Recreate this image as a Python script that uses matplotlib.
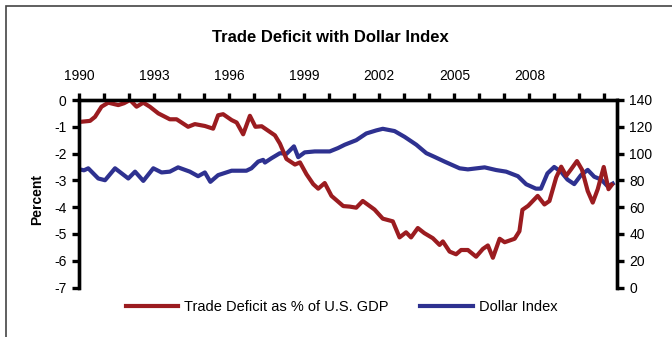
import matplotlib
matplotlib.use('Agg')
import matplotlib.pyplot as plt
from matplotlib.patches import Rectangle
import numpy as np

plt.rcParams['font.family'] = ['Liberation Sans', 'DejaVu Sans']
plt.rcParams['axes.unicode_minus'] = False

# trade balance, percent of GDP
deficit_years = [1990.0, 1990.44, 1990.64, 1990.9, 1991.17, 1991.57, 1991.8, 1992.04,
                 1992.3, 1992.57, 1992.83, 1993.17, 1993.63, 1993.9, 1994.36, 1994.63,
                 1995.03, 1995.36, 1995.56, 1995.76, 1996.1, 1996.3, 1996.56, 1996.83,
                 1997.05, 1997.3, 1997.83, 1998.03, 1998.29, 1998.63, 1998.83, 1999.09,
                 1999.36, 1999.56, 1999.82, 2000.09, 2000.56, 2000.82, 2001.08, 2001.34,
                 2001.81, 2002.14, 2002.54, 2002.81, 2003.07, 2003.27, 2003.54, 2003.8,
                 2004.14, 2004.41, 2004.54, 2004.81, 2005.07, 2005.27, 2005.54, 2005.87,
                 2006.14, 2006.34, 2006.54, 2006.81, 2007.01, 2007.41, 2007.6, 2007.72,
                 2007.95, 2008.33, 2008.6, 2008.8, 2009.07, 2009.27, 2009.47, 2009.67,
                 2009.9, 2010.1, 2010.33, 2010.53, 2010.73, 2010.97, 2011.16, 2011.29]
deficit_pct = [-0.82, -0.78, -0.63, -0.25, -0.10, -0.19, -0.12, 0.0,
               -0.25, -0.10, -0.25, -0.5, -0.72, -0.72, -1.0, -0.9,
               -0.97, -1.07, -0.57, -0.53, -0.75, -0.84, -1.28, -0.59,
               -1.0, -0.98, -1.32, -1.63, -2.2, -2.41, -2.33, -2.77,
               -3.14, -3.31, -3.1, -3.58, -3.96, -3.98, -4.02, -3.77,
               -4.09, -4.43, -4.53, -5.13, -4.94, -5.13, -4.78, -4.97,
               -5.16, -5.41, -5.28, -5.66, -5.76, -5.6, -5.6, -5.85,
               -5.56, -5.43, -5.89, -5.18, -5.31, -5.18, -4.9, -4.1,
               -3.95, -3.58, -3.9, -3.77, -2.89, -2.49, -2.83, -2.58,
               -2.28, -2.6, -3.4, -3.83, -3.33, -2.5, -3.33, -3.17]

# trade-weighted dollar index
dollar_years = [1990.0, 1990.2, 1990.37, 1990.77, 1991.04, 1991.44, 1991.97, 1992.24,
                1992.57, 1992.97, 1993.3, 1993.63, 1993.96, 1994.43, 1994.76, 1995.03,
                1995.25, 1995.56, 1996.1, 1996.69, 1996.89, 1997.16, 1997.36, 1997.43,
                1997.69, 1998.03, 1998.29, 1998.59, 1998.76, 1999.02, 1999.42, 2000.02,
                2000.35, 2000.62, 2001.08, 2001.48, 2001.88, 2002.14, 2002.61, 2003.01,
                2003.48, 2003.88, 2004.21, 2004.61, 2005.21, 2005.54, 2006.21, 2006.67,
                2007.07, 2007.54, 2007.87, 2008.26, 2008.46, 2008.72, 2008.99, 2009.26,
                2009.52, 2009.79, 2010.06, 2010.33, 2010.59, 2010.87, 2011.13, 2011.33]
dollar_index = [88.3, 87.5, 89.0, 81.4, 80.1, 89.0, 81.4, 86.5,
                79.6, 89.0, 85.9, 86.5, 89.7, 86.5, 83.1, 85.9,
                78.9, 83.9, 87.2, 87.2, 89.0, 94.0, 95.3, 93.3,
                96.5, 100.3, 99.8, 105.4, 97.3, 100.9, 101.6, 101.6,
                104.1, 106.6, 110.0, 115.0, 117.3, 118.5, 116.8, 112.5,
                106.6, 100.3, 97.5, 94.0, 89.0, 88.2, 89.7, 87.7,
                86.5, 83.1, 77.1, 73.8, 73.8, 85.2, 90.0, 86.5,
                80.6, 77.2, 83.9, 87.8, 82.7, 80.6, 75.5, 77.6]

year_ticks = list(range(1990, 2012))
year_labels = [str(y) if y <= 2008 and (y - 1990) % 3 == 0 else '' for y in year_ticks]
pct_ticks = list(range(-7, 1))
index_ticks = list(range(0, 141, 20))

red = '#9b1c20'
blue = '#2e3190'

W, H = 672, 337
fig = plt.figure(figsize=(W / 100, H / 100), dpi=100)

# outer frame (left and top edges show, the rest runs off the page)
fig.patches.append(Rectangle((6 / W, -0.2), 1.2, 1.2 - 6 / H, transform=fig.transFigure,
                             fill=False, edgecolor='#444444', linewidth=1.2))

ax = fig.add_axes([79 / W, 1 - 287.5 / H, 538 / W, 187.5 / H])
ax2 = ax.twinx()

l1, = ax.plot(deficit_years, deficit_pct, color=red, linewidth=3, solid_joinstyle='round',
              label='Trade Deficit as % of U.S. GDP')
l2, = ax2.plot(dollar_years, dollar_index, color=blue, linewidth=3, solid_joinstyle='round',
               label='Dollar Index')

ax.set_xlim(1990, 2011.5)
ax.set_ylim(-7, 0)
ax2.set_ylim(0, 140)

ax.xaxis.tick_top()
ax.set_xticks(year_ticks)
ax.set_xticklabels(year_labels)
ax.set_yticks(pct_ticks)
ax2.set_yticks(index_ticks)

for a in (ax, ax2):
    a.spines['bottom'].set_visible(False)
    for s in ('left', 'right', 'top'):
        a.spines[s].set_linewidth(2.4)
    a.tick_params(length=5, width=2.4, labelsize=10, pad=4)
ax.tick_params(axis='x', pad=7)

# keep the red line above the blue one
ax.set_zorder(ax2.get_zorder() + 1)
ax.patch.set_visible(False)

fig.text(330 / W, 1 - 38 / H, 'Trade Deficit with Dollar Index', ha='center', va='center',
         fontsize=12, fontweight='bold')
fig.text(37 / W, 1 - 200 / H, 'Percent', rotation=90, ha='center', va='center',
         fontsize=10, fontweight='bold')

fig.legend(handles=[l1, l2], loc='center', bbox_to_anchor=(341.5 / W, 1 - 307 / H),
           ncol=2, frameon=False, fontsize=10.5, handlelength=3.6, handletextpad=0.38,
           columnspacing=2.2)

fig.savefig('out.png', dpi=100)
